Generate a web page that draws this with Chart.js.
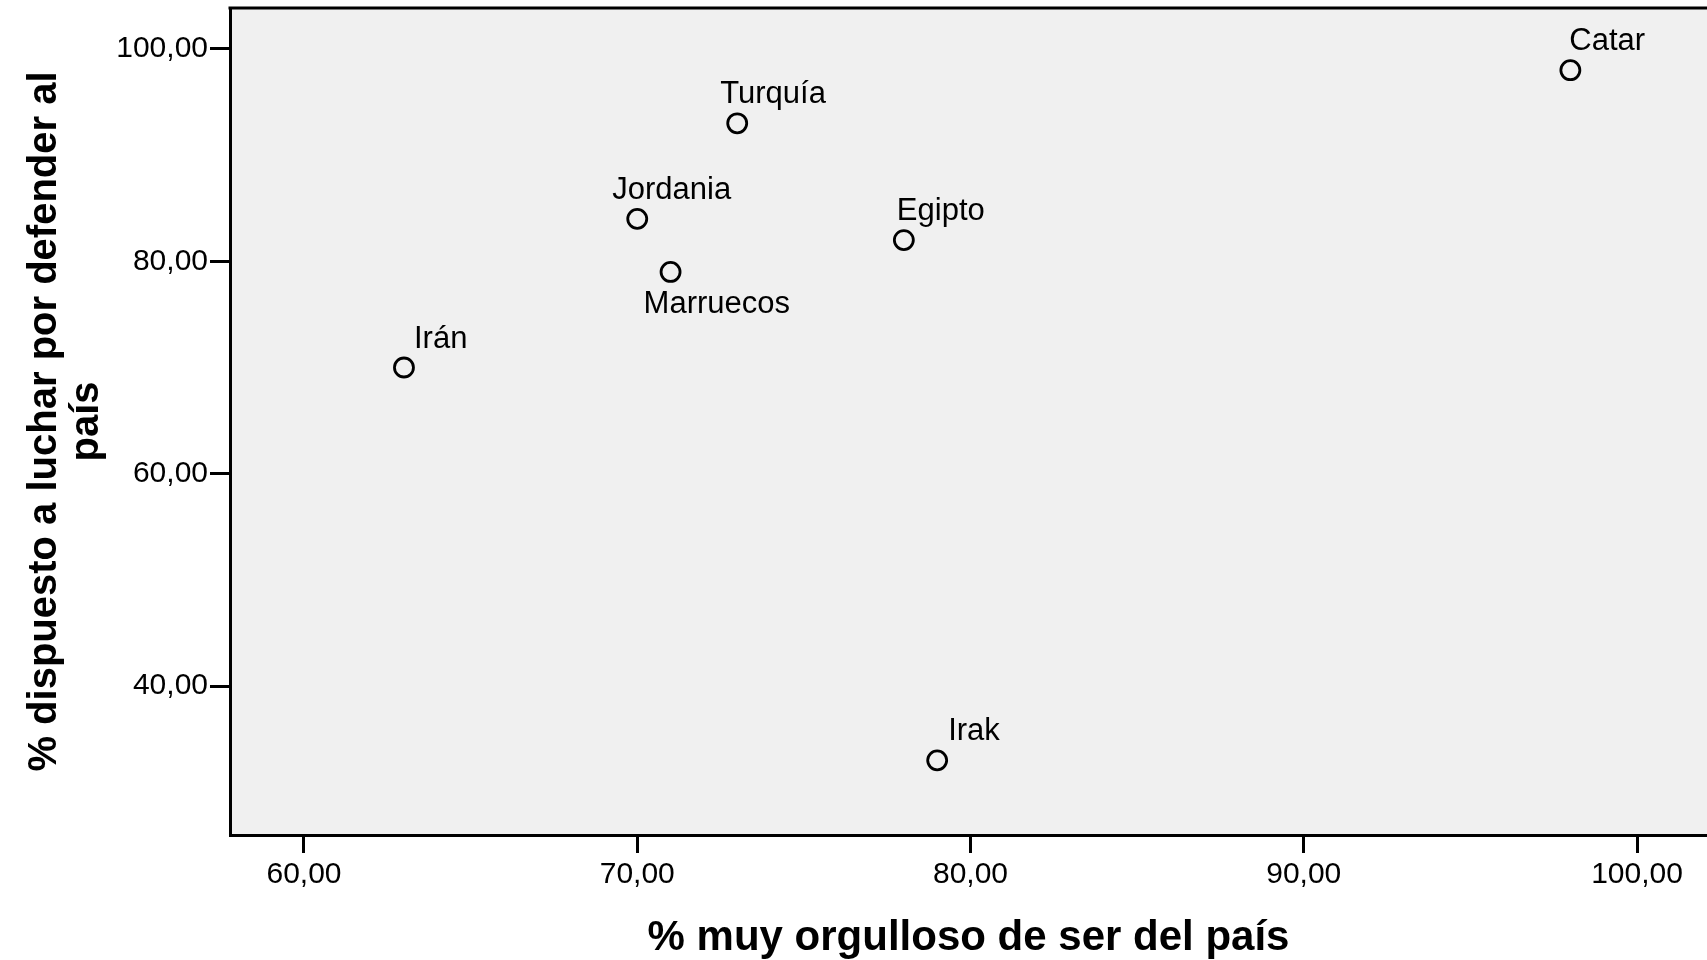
<!DOCTYPE html>
<html>
<head>
<meta charset="utf-8">
<script src="https://cdn.jsdelivr.net/npm/chart.js@4"></script>
<style>
  body { margin: 0; background: #fff; }
</style>
</head>
<body>
<canvas id="myChart" width="1707" height="960"></canvas>
<script>
// datos del gráfico
var paises = ['Irán', 'Jordania', 'Marruecos', 'Turquía', 'Egipto', 'Irak', 'Catar'];
var orgullo = [63, 70, 71, 73, 78, 79, 98];
var luchar = [70, 84, 79, 93, 82, 33, 98];
var xTicks = [60, 70, 80, 90, 100];
var yTicks = [40, 60, 80, 100];

// desplazamiento de las etiquetas respecto al punto (px)
var labelOffsets = [[10, -20], [-25, -20], [-27, 41], [-17, -20], [-7, -20], [11, -20], [-1, -20]];

var fuente = '"Liberation Sans", Arial, sans-serif';

function fmt(v) {
  return v.toFixed(2).replace('.', ',');
}

var puntos = orgullo.map(function (x, i) {
  return { x: x, y: luchar[i] };
});

var fondoPlugin = {
  id: 'fondo',
  beforeDraw: function (chart) {
    var a = chart.chartArea;
    var ctx = chart.ctx;
    ctx.save();
    ctx.fillStyle = '#f0f0f0';
    ctx.fillRect(a.left, a.top, a.right - a.left, a.bottom - a.top);
    ctx.restore();
  },
  afterDraw: function (chart) {
    var a = chart.chartArea;
    var ctx = chart.ctx;
    ctx.save();
    ctx.strokeStyle = '#000';
    ctx.lineWidth = 3;
    ctx.beginPath();
    ctx.moveTo(a.left - 1.5, a.top);
    ctx.lineTo(chart.width, a.top);
    ctx.stroke();
    ctx.restore();
  }
};

var etiquetasPlugin = {
  id: 'etiquetas',
  afterDatasetsDraw: function (chart) {
    var ctx = chart.ctx;
    var meta = chart.getDatasetMeta(0);
    ctx.save();
    ctx.font = '31px ' + fuente;
    ctx.fillStyle = '#000';
    ctx.textAlign = 'left';
    ctx.textBaseline = 'alphabetic';
    meta.data.forEach(function (p, i) {
      ctx.fillText(paises[i], p.x + labelOffsets[i][0], p.y + labelOffsets[i][1]);
    });
    ctx.restore();
  }
};

var ctx = document.getElementById('myChart').getContext('2d');
var myChart = new Chart(ctx, {
  type: 'scatter',
  data: {
    datasets: [{
      label: 'Países',
      data: puntos,
      pointRadius: 9.5,
      pointHoverRadius: 9.5,
      pointBorderWidth: 2.8,
      pointBorderColor: '#000',
      pointBackgroundColor: 'rgba(0,0,0,0)'
    }]
  },
  plugins: [fondoPlugin, etiquetasPlugin],
  options: {
    responsive: false,
    animation: false,
    devicePixelRatio: 1,
    layout: { autoPadding: false, padding: { top: 8, right: 0, bottom: 0, left: 0 } },
    plugins: {
      legend: { display: false },
      tooltip: { enabled: false }
    },
    scales: {
      x: {
        type: 'linear',
        min: 57.78,
        max: 102.1,
        afterBuildTicks: function (axis) {
          axis.ticks = xTicks.map(function (v) { return { value: v }; });
        },
        afterFit: function (axis) {
          axis.height = 125;
          axis.paddingLeft = 0;
          axis.paddingRight = 0;
        },
        border: { display: true, color: '#000', width: 3 },
        grid: { drawOnChartArea: false, drawTicks: true, tickLength: 18, tickWidth: 3, tickColor: '#000' },
        ticks: {
          color: '#000',
          padding: 4,
          maxRotation: 0,
          font: { family: fuente, size: 30 },
          callback: function (v) { return fmt(v); }
        },
        title: {
          display: true,
          text: '% muy orgulloso de ser del país',
          color: '#000',
          padding: { top: 0, bottom: 0 },
          font: { family: fuente, size: 42, weight: 'bold', lineHeight: 1.05 }
        }
      },
      y: {
        type: 'linear',
        min: 25.97,
        max: 103.86,
        afterBuildTicks: function (axis) {
          axis.ticks = yTicks.map(function (v) { return { value: v }; });
        },
        afterFit: function (axis) {
          axis.width = 230;
          axis.paddingTop = 0;
          axis.paddingBottom = 0;
        },
        border: { display: true, color: '#000', width: 3 },
        grid: { drawOnChartArea: false, drawTicks: true, tickLength: 20, tickWidth: 3, tickColor: '#000' },
        ticks: {
          color: '#000',
          padding: 2,
          font: { family: fuente, size: 30 },
          callback: function (v) { return fmt(v); }
        },
        title: {
          display: true,
          text: ['% dispuesto a luchar por defender al', 'país'],
          color: '#000',
          padding: { top: 24, bottom: 0 },
          font: { family: fuente, size: 40, weight: 'bold', lineHeight: 1.05 }
        }
      }
    }
  }
});
</script>
</body>
</html>
